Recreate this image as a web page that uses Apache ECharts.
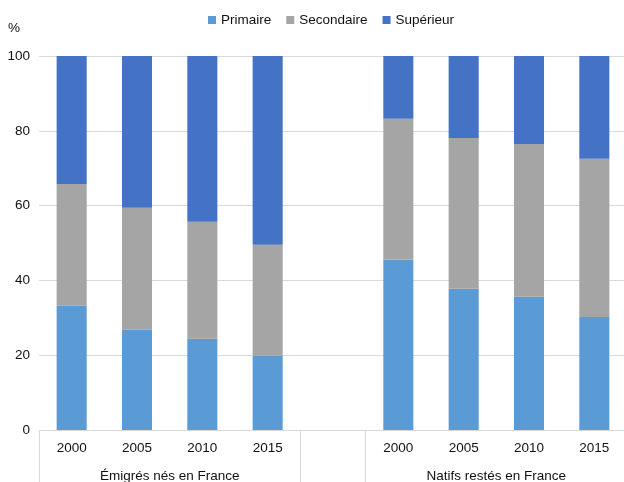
<!DOCTYPE html>
<html>
<head>
<meta charset="utf-8">
<script src="https://cdn.jsdelivr.net/npm/echarts@6/dist/echarts.min.js"></script>
<style>html,body{margin:0;padding:0;background:#fff}#c{width:624px;height:482px}</style>
</head>
<body>
<div id="c"></div>
<script>
var years = ['2000', '2005', '2010', '2015', '', '2000', '2005', '2010', '2015'];
var groupNames = ['Émigrés nés en France', 'Natifs restés en France'];
var groupCenters = [2, 7];
var groupBounds = [0, 4, 5, 9];
var primaire   = [33.2, 26.8, 24.4, 19.9, null, 45.6, 37.8, 35.6, 30.2];
var secondaire = [32.6, 32.6, 31.3, 29.6, null, 37.6, 40.3, 40.9, 42.3];
var superieur  = [34.2, 40.6, 44.3, 50.5, null, 16.8, 21.9, 23.5, 27.5];
var yTicks = [0, 20, 40, 60, 80, 100];

var font = 'Liberation Sans, Arial, sans-serif';
var txt = '#111';
var fs = 13.5;
var chart = echarts.init(document.getElementById('c'));
function bar(name, data, color) {
  return {
    name: name, type: 'bar', stack: 'total', data: data, barWidth: '46%',
    xAxisIndex: 0, yAxisIndex: 0,
    itemStyle: { color: color },
    emphasis: { disabled: true }
  };
}
chart.setOption({
  animation: false,
  textStyle: { fontFamily: font },
  legend: {
    top: 8, left: 203, itemWidth: 8, itemHeight: 8, itemGap: 15,
    icon: 'rect',
    textStyle: { fontSize: fs, color: txt, fontFamily: font },
    data: ['Primaire', 'Secondaire', 'Supérieur']
  },
  grid: { left: 39, right: -3, top: 56, bottom: 52, containLabel: false, outerBoundsMode: 'none' },
  xAxis: [
    {
      type: 'category', data: years, position: 'bottom',
      axisLine: { lineStyle: { color: '#d9d9d9', width: 1 } },
      axisTick: { show: false },
      axisLabel: { interval: 0, margin: 11, fontSize: fs, color: txt, fontFamily: font }
    },
    {
      type: 'value', min: 0, max: 9, position: 'bottom', offset: 0,
      axisLine: { show: false },
      splitLine: { show: false },
      axisTick: { show: true, length: 54, customValues: groupBounds, lineStyle: { color: '#d9d9d9' } },
      axisLabel: {
        customValues: groupCenters, margin: 39, fontSize: fs, color: txt, fontFamily: font,
        formatter: function (v) { return groupNames[groupCenters.indexOf(v)]; }
      }
    }
  ],
  yAxis: {
    type: 'value', min: yTicks[0], max: yTicks[yTicks.length - 1], interval: 20,
    name: '%', nameLocation: 'end', nameGap: 21,
    nameTextStyle: { fontSize: fs, color: txt, align: 'right', padding: [0, 19, 0, 0], fontFamily: font },
    axisLine: { show: false }, axisTick: { show: false },
    axisLabel: { margin: 9, fontSize: fs, color: txt, fontFamily: font },
    splitLine: { lineStyle: { color: '#d9d9d9', width: 1 } }
  },
  series: [
    bar('Primaire', primaire, '#5B9BD5'),
    bar('Secondaire', secondaire, '#A5A5A5'),
    bar('Supérieur', superieur, '#4472C4')
  ]
});
</script>
</body>
</html>
